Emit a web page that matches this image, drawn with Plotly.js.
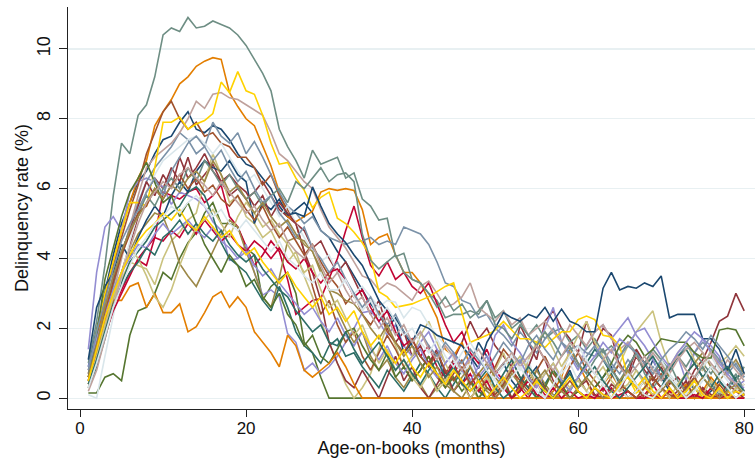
<!DOCTYPE html>
<html>
<head>
<meta charset="utf-8">
<script src="https://cdn.plot.ly/plotly-3.0.1.min.js"></script>
<style>html,body{margin:0;padding:0;background:#fff;}#chart{width:756px;height:458px;}</style>
</head>
<body>
<div id="chart"></div>
<script>
const months = [1,2,3,4,5,6,7,8,9,10,11,12,13,14,15,16,17,18,19,20,21,22,23,24,25,26,27,28,29,30,31,32,33,34,35,36,37,38,39,40,41,42,43,44,45,46,47,48,49,50,51,52,53,54,55,56,57,58,59,60,61,62,63,64,65,66,67,68,69,70,71,72,73,74,75,76,77,78,79,80];
const xTicks = [0,20,40,60,80];
const yTicks = [0,2,4,6,8,10];

const navyA = [0.9,2.0,3.0,4.1,5.0,5.6,6.2,6.5,7.0,7.4, 7.5,7.9,8.2,7.7,7.6,7.8,7.7,7.4,7.0,6.7, 6.6,6.3,6.0,5.5,5.2,5.4,5.6,5.3,4.8,4.6, 4.2,3.9,3.5,3.1,2.7,2.4,2.0,2.3,1.9,1.5, 1.2,0.9,1.4,0.6,1.0,0.4,0.9,1.6,1.2,0.7, 1.0,0.5,0.2,0.6,0.9,0.3,0.0,0.4,0.8,0.2, 0.0,0.3,0.6,0.9,0.4,0.0,0.2,0.5,1.1,0.6, 0.2,0.0,0.4,0.3,0.0,0.2,0.5,0.2,0.0,0.1];
const maroonA = [0.8,1.6,2.4,3.0,3.6,4.4,5.2,5.9,6.3,6.0, 6.6,6.2,6.9,6.1,6.4,6.7,6.2,5.8,6.0,5.7, 5.9,6.2,5.8,5.4,5.2,5.0,4.8,4.3,4.5,4.0, 3.6,3.9,3.4,2.9,2.4,2.8,2.0,1.6,1.9,1.2, 1.5,1.0,1.4,0.7,1.1,1.6,2.2,1.7,2.0,1.5, 1.2,0.9,2.1,1.6,1.1,2.2,2.5,2.0,1.7,1.3, 2.2,1.5,2.0,1.8,0.9,0.6,1.2,0.8,0.5,0.9, 0.4,0.6,0.3,0.8,1.1,1.6,2.2,2.35,3.0,2.5];
const forestA = [0.15,0.15,0.6,0.7,0.5,1.8,2.5,2.6,3.0,3.6, 3.4,4.0,4.45,4.75,5.3,5.6,5.0,5.0,4.9,4.3, 4.1,2.8,3.2,3.4,3.6,3.0,1.6,1.3,0.6,0.0, 0,0,0,0,0,0,0,0,0,0, 0,0,0,0,0,0,0,0,0,0, 0,0,0,0,0,0,0,0,0,0, 0,0,0,0,0,0,0,0,0,0, 0,0,0,0,0,0,0,0,0,0];
const dkorangeA = [0.5,1.6,2.8,3.9,4.8,5.6,6.3,6.8,7.8,8.2, 8.55,9.0,9.2,9.5,9.65,9.75,9.7,8.75,8.35,8.0, 7.8,7.2,6.65,5.9,5.2,5.05,5.2,5.35,5.9,6.0, 5.95,6.0,5.95,5.4,4.4,4.6,4.7,4.1,3.6,3.6, 3.3,2.8,2.3,1.4,1.2,1.6,0.9,0.4,0.7,0.2, 0.5,0.0,0.3,0.8,0.4,0.0,0.2,0.6,1.4,1.0, 0.5,0.0,0.4,0.7,0.3,0.0,0.2,0.5,0.0,0.3, 0.0,0.1,0.4,0.0,0.2,0.6,0.3,0.0,0.2,0.4];
const tealA = [1.0,2.2,3.8,5.8,7.3,7.0,8.1,8.4,9.2,10.4, 10.6,10.5,10.9,10.6,10.65,10.8,10.7,10.6,10.4,10.1, 9.7,9.3,8.8,7.7,7.2,6.8,6.3,7.1,6.7,6.8, 6.9,6.3,6.45,5.7,5.5,5.1,5.15,4.05,4.15,3.4, 3.3,3.0,2.8,2.3,2.4,2.4,2.5,2.4,2.8,2.3, 2.5,2.0,2.2,1.8,2.1,1.7,1.9,2.0,1.6,1.8, 1.4,1.7,1.3,1.5,1.2,1.6,1.3,1.0,1.4,1.1, 0.8,1.2,0.9,1.3,1.0,0.7,1.1,0.8,0.5,0.9];
const cranberryA = [0.4,1.0,1.8,2.6,3.1,3.6,3.95,3.8,4.6,5.9, 5.8,5.7,5.9,6.0,5.6,5.8,6.1,5.2,4.9,4.35, 3.8,4.1,4.5,4.2,3.4,2.4,2.6,2.8,2.85,3.4, 4.0,4.8,5.5,4.6,3.8,3.5,3.9,3.4,3.6,3.2, 3.0,3.3,2.7,2.1,1.6,1.9,1.3,1.0,1.4,0.8, 0.5,0.9,0.3,0.0,0.4,0.1,0.0,0.3,0.0,0.2, 0.0,0.1,0.0,0.3,0.0,0.2,0.0,0.1,0.4,0.0, 0.2,0.0,0.1,0.0,0.3,0.0,0.1,0.2,0.0,0.1];
const lavenderA = [1.4,3.6,4.9,5.2,4.8,5.9,6.2,6.3,6.2,6.05, 5.55,5.9,5.8,5.7,5.5,5.05,4.8,3.95,4.0,4.4, 3.6,2.95,3.1,2.9,1.85,1.6,0.8,1.0,0.7,0.9, 1.2,1.6,2.0,2.45,2.5,2.2,1.8,2.1,1.5,1.2, 1.6,1.9,1.4,1.0,1.3,0.8,1.2,0.6,0.9,1.8, 2.1,1.6,1.3,0.9,1.5,2.0,2.6,1.6,1.2,0.8, 1.5,1.9,2.1,1.7,2.0,2.3,1.8,1.5,1.1,0.6, 0.8,1.2,0.5,1.3,1.7,1.5,1.2,0.6,0.3,0.5];
const khakiA = [0.3,1.0,1.9,2.8,3.4,3.9,3.8,3.7,3.25,4.0, 4.5,4.75,5.1,5.3,6.2,7.0,6.4,5.6,5.8,5.2, 5.0,4.6,4.8,4.3,3.9,4.2,3.5,2.9,2.2,1.6, 1.0,0.4,0.0,0.3,0.7,1.4,2.1,1.5,0.9,1.2, 1.8,2.2,1.6,1.0,0.5,0.9,0.3,0.0,0.4,0.8, 1.3,0.7,0.4,1.1,1.6,1.9,1.4,0.9,1.3,1.8, 2.2,1.6,1.2,0.7,1.0,1.5,1.9,2.2,2.5,1.6, 0.9,1.3,1.6,1.1,0.8,1.4,1.0,1.2,1.5,1.2];
const siennaA = [0.7,1.8,2.9,3.8,4.6,5.4,6.1,7.0,7.6,8.2, 8.5,8.0,7.7,7.9,7.5,7.6,7.3,7.2,6.9,6.9, 6.6,6.1,6.4,5.8,5.4,5.0,4.2,3.2,2.4,2.8, 2.1,1.6,1.9,1.2,0.8,1.3,1.8,1.4,0.9,0.5, 0.8,1.2,0.6,0.3,0.7,1.1,0.5,0.2,0.6,0.9, 1.4,1.1,0.6,0.3,0.8,1.2,0.7,0.4,0.9,1.3, 0.8,0.5,0.2,0.6,1.0,0.6,0.3,0.0,0.4,0.7, 0.3,0.0,0.2,0.5,0.9,0.5,0.2,0.0,0.3,0.1];
const emidblueA = [0.5,1.3,2.3,3.2,4.1,4.9,5.6,6.2,6.6,6.9, 7.2,7.6,7.4,7.0,7.2,7.9,7.5,7.3,7.6,7.0, 7.35,6.9,6.4,5.9,5.5,5.3,5.0,5.2,4.8,4.6, 4.5,4.4,4.5,4.5,4.6,4.4,4.5,4.4,4.9,4.8, 4.7,4.4,3.9,3.3,3.2,2.8,2.7,2.3,2.4,2.0, 1.8,1.5,1.9,1.6,1.3,1.7,2.0,1.6,1.4,1.5, 1.3,1.2,1.4,1.0,0.7,1.1,0.8,0.5,0.9,0.6, 0.9,1.2,1.5,1.3,1.6,1.4,1.1,0.7,1.0,0.6];
const emeraldA = [0.3,0.9,1.7,2.6,3.3,3.9,4.2,4.5,4.9,5.1, 5.3,5.5,5.9,6.05,5.8,5.2,4.45,4.0,3.8,3.6, 3.2,2.8,2.5,3.2,2.6,1.9,1.5,1.3,1.0,1.5, 1.7,1.2,1.3,0.9,0.6,0.3,0.8,0.5,0.2,0.6, 1.0,0.7,0.3,0.0,0.4,0.8,0.5,0.2,0.0,0.3, 0.7,1.1,0.6,0.3,0.0,0.4,0.8,0.5,0.2,0.6, 1.0,1.4,1.1,0.7,0.4,0.9,1.3,1.0,0.6,0.3, 0.8,1.2,1.4,1.0,0.6,0.9,0.5,0.2,0.6,0.7];
const brownA = [0.4,1.1,2.0,2.9,3.6,4.2,4.7,5.0,5.3,5.2, 4.6,3.85,3.5,3.2,3.7,4.2,4.7,5.1,4.9,4.2, 3.6,2.9,2.6,3.45,4.5,4.6,4.5,4.2,3.7,3.1, 2.5,2.0,1.6,1.9,1.2,0.8,1.1,0.6,0.3,0.7, 0.4,0.0,0.3,0.6,0.2,0.0,0.4,0.7,1.0,0.6, 0.3,0.0,0.2,0.5,0.8,0.4,0.1,0.0,0.3,0.6, 0.2,0.0,0.4,0.8,0.5,0.2,0.0,0.3,0.7,1.0, 0.6,0.3,0.7,1.0,1.3,0.9,0.5,0.8,1.1,0.7];
const eroseA = [0.3,1.0,2.0,3.0,4.0,4.9,5.8,6.6,6.9,7.1, 7.3,7.6,8.0,8.5,8.3,8.7,8.75,8.6,8.55,8.4, 8.25,8.1,7.6,7.0,6.8,6.5,6.2,6.0,5.4,4.9, 4.6,4.3,3.9,3.5,3.4,3.1,3.3,3.2,3.0,2.8, 3.2,3.35,3.0,2.6,2.7,2.9,3.3,2.6,2.4,2.2, 2.5,2.1,2.3,1.8,2.0,2.2,1.9,1.6,2.1,1.8, 1.5,1.9,2.1,1.7,1.4,1.6,1.2,0.9,1.3,1.0, 0.7,1.1,1.4,1.6,1.3,1.0,0.7,1.1,0.8,0.5];
const goldA = [0.6,1.9,3.0,3.9,4.8,5.6,5.6,5.5,6.6,7.9, 7.9,8.05,7.7,7.85,7.95,8.15,9.05,8.75,9.35,8.8, 8.7,8.1,7.3,6.7,6.75,6.3,5.95,5.45,5.75,5.9, 5.15,5.0,4.75,4.45,4.05,3.05,2.9,2.6,2.65,2.7, 2.8,2.9,3.05,3.2,3.3,2.45,1.6,1.7,1.8,1.95, 2.2,1.95,1.7,1.7,1.6,1.45,1.7,1.9,1.9,2.25, 2.35,2.25,1.8,1.75,1.5,0.6,0.15,0.3,0.1,0.0, 0.2,0.0,0.1,0.3,0.0,0.1,0.0,0.2,0.0,0.1];
const bluishgrayA = [0.1,0.0,1.2,2.4,3.5,4.5,5.3,5.9,6.4,6.8, 7.0,7.2,7.4,7.5,7.3,7.0,7.3,6.9,6.5,6.2, 6.4,6.0,5.6,5.2,5.5,5.0,4.6,4.2,3.9,4.1, 3.6,3.3,3.0,3.2,2.9,2.6,2.8,2.75,2.3,2.6, 2.5,2.1,1.8,1.5,1.1,0.7,1.0,0.4,0.2,0.6, 0.9,1.2,0.8,1.1,0.4,0.0,0.3,0.7,1.0,0.5, 0.2,0.0,0.4,0.8,0.3,0.0,0.2,0.5,0.8,1.1, 0.7,0.4,0.1,0.5,0.9,1.2,0.8,0.5,0.2,0.4];

const navyB = [1.1,2.6,3.2,3.6,4.4,4.0,4.6,5.1,5.5,5.2, 5.8,6.2,5.9,6.5,6.8,6.6,6.5,6.8,6.4,6.2, 5.0,5.6,5.4,5.7,5.25,5.3,5.2,6.05,5.5,5.0, 4.7,4.45,4.1,3.8,3.3,2.8,2.5,2.2,1.3,1.6, 2.1,2.0,1.8,1.7,1.6,1.5,1.2,0.85,1.6,2.0, 2.45,2.3,2.2,2.4,2.3,2.6,2.2,2.55,2.2,2.1, 1.9,1.9,3.15,3.6,3.1,3.2,3.15,3.3,3.2,3.5, 2.3,2.4,2.4,2.4,1.7,1.7,1.4,0.8,1.4,0.7];
const maroonB = [0.5,1.2,2.2,3.4,4.2,4.8,5.5,6.2,5.8,6.4, 6.0,6.9,6.3,6.6,7.0,6.5,6.2,6.4,6.1,5.9, 5.5,5.8,5.2,5.6,5.3,5.0,4.2,3.6,2.8,1.6, 1.0,0.5,0.3,0.8,0.4,0.0,0.6,1.2,0.5,0.9, 0.3,0.0,0.4,0.8,0.2,0.5,0.0,0.3,0.0,0.2, 0.6,0.0,0.4,0.9,1.5,1.1,0.5,0.2,0.0,0.3, 0.5,0.1,0.0,0.4,0.2,0.7,1.4,1.0,0.6,0.3, 0.0,0.2,0.5,0.0,0.3,0.1,0.0,0.4,0.2,0.0];
const forestB = [0.6,1.8,3.4,4.3,5.2,5.9,6.3,6.75,6.2,5.6, 5.8,5.2,5.6,5.0,4.4,4.0,3.6,4.1,3.8,3.2, 3.4,2.9,2.6,3.0,2.4,2.1,1.5,1.8,1.2,1.0, 1.4,1.9,2.0,1.5,1.1,0.8,1.3,0.6,0.9,0.5, 0.8,1.2,0.7,0.3,0.6,0.2,0.5,0.0,0.3,0.1, 0.4,0.0,0.2,0.6,0.0,0.3,0.8,0.4,0.0,0.2, 0.0,0.3,0.6,1.0,1.5,1.8,1.6,1.2,1.4,1.7, 1.65,1.6,1.6,1.3,1.15,1.15,1.95,2.0,1.95,1.5];
const dkorangeB = [0.5,1.4,2.2,2.8,2.8,3.2,3.3,2.6,3.0,2.45, 2.45,2.7,1.9,2.05,2.45,2.9,3.05,2.6,2.9,2.6, 1.9,1.6,1.3,0.9,1.8,1.5,0.8,0.6,0.8,1.0, 1.3,0.9,0.4,0.0,0,0,0,0,0,0, 0,0,0,0,0,0,0,0,0,0, 0,0,0,0,0,0,0,0,0,0, 0,0,0,0,0,0,0,0,0,0, 0,0,0,0,0,0,0,0,0,0];
const tealB = [0.7,1.5,2.6,3.5,4.2,4.8,5.3,5.8,5.5,6.0, 6.3,6.0,6.6,6.2,6.8,6.5,6.1,6.4,6.0,5.7, 5.9,5.5,5.8,6.0,5.6,6.2,6.0,6.3,6.6,6.2, 6.4,6.45,6.2,4.7,3.95,3.7,3.9,4.1,3.6,3.4, 3.3,3.0,2.6,2.9,2.5,2.7,2.3,2.5,2.8,2.1, 2.0,1.7,2.1,1.8,1.5,1.9,1.6,1.2,1.5,1.0, 0.7,1.1,1.4,0.8,0.5,0.9,1.3,0.7,0.3,0.6, 1.0,0.5,0.2,0.6,0.9,0.4,0.1,0.3,0.7,0.2];
const cranberryB = [0.6,1.2,1.8,2.5,3.0,3.5,4.0,4.3,4.6,4.5, 4.8,4.6,5.0,4.7,5.1,4.8,4.5,4.7,4.4,4.2, 4.5,4.3,4.0,4.3,3.9,3.7,4.0,3.6,3.3,3.6, 3.7,3.4,2.9,3.1,2.6,2.2,2.5,1.9,1.5,1.7, 1.2,1.5,0.9,0.6,1.0,0.4,0.7,0.2,0.5,0.0, 0.3,0.0,0.2,0.5,0.1,0.0,0.3,0.0,0.2,0.0, 0.1,0.0,0.3,0.0,0.1,0.2,0.0,0.0,0.1,0.0, 0.2,0.0,0.0,0.1,0.0,0.3,0.0,0.1,0.0,0.0];
const lavenderB = [0.9,1.7,2.4,3.1,3.6,4.0,4.4,4.3,4.7,5.0, 4.7,4.9,5.1,4.8,4.6,4.9,4.5,4.3,4.0,4.2, 3.8,3.5,3.7,3.3,3.0,2.7,2.4,2.6,2.2,1.9, 2.3,1.8,1.5,1.9,1.4,1.1,1.5,1.0,0.7,1.1, 1.4,0.9,0.6,1.0,1.3,0.8,0.5,0.9,1.2,0.7, 0.4,0.8,1.1,0.6,0.3,0.7,1.0,0.5,0.2,0.6, 0.9,1.2,1.6,1.3,1.7,1.5,1.9,2.0,1.6,1.2, 0.9,1.3,1.6,1.9,1.7,1.3,1.0,0.7,0.4,0.3];
const khakiB = [0.4,1.2,2.1,2.9,3.6,4.3,4.0,3.5,2.9,2.6, 3.1,3.8,4.4,4.9,5.1,5.4,5.0,4.6,5.2,5.6, 5.3,4.9,5.1,4.7,4.4,4.0,3.6,3.8,3.1,2.6, 2.8,2.3,1.8,2.1,1.5,1.0,1.4,0.8,1.1,0.6, 0.3,0.7,0.2,0.5,0.9,0.4,0.0,0.3,0.6,0.2, 0.5,0.9,1.2,0.8,0.4,0.7,1.0,0.6,0.3,0.5, 0.2,0.6,0.9,0.5,0.2,0.4,0.8,0.4,0.1,0.3, 0.0,0.4,0.7,0.3,0.1,0.5,0.2,0.0,0.3,0.2];
const siennaB = [0.6,1.5,2.5,3.3,4.1,4.7,5.3,5.5,6.0,5.7, 6.1,6.4,6.0,6.3,5.9,6.1,5.7,5.5,5.8,5.4, 5.1,5.5,5.0,4.6,4.9,4.5,4.1,4.4,3.9,3.5, 3.2,2.7,3.0,2.4,2.1,2.5,1.9,1.6,1.3,1.7, 1.2,0.9,1.3,0.8,0.5,0.9,0.4,0.7,0.3,0.1, 0.4,0.8,0.5,0.2,0.6,0.3,0.0,0.2,0.5,0.2, 0.0,0.3,0.1,0.0,0.4,0.2,0.0,0.3,0.6,0.3, 0.1,0.0,0.3,0.6,0.2,0.0,0.4,0.1,0.0,0.2];
const emidblueB = [0.8,1.9,2.8,3.7,4.5,5.0,5.4,5.9,6.3,5.8, 6.5,6.9,7.3,7.5,7.2,6.8,7.1,6.6,6.2,6.5, 6.0,5.6,5.8,5.3,5.0,4.6,4.9,4.3,4.0,3.6, 3.9,3.4,3.0,2.6,2.9,2.4,2.1,2.4,1.9,1.6, 1.9,1.5,1.2,1.6,1.3,1.0,1.4,1.1,0.8,1.2, 1.6,1.3,1.0,1.5,1.8,1.4,1.1,1.6,1.3,0.9, 1.2,1.5,1.1,0.8,1.2,1.5,1.3,1.0,0.7,1.1, 1.4,1.6,1.9,1.7,1.4,1.8,1.5,1.2,0.9,0.6];
const emeraldB = [0.4,1.1,1.9,2.7,3.2,3.6,3.9,4.3,4.1,4.6, 4.8,5.1,4.7,5.0,4.7,4.5,4.8,4.4,4.1,3.9, 4.1,3.7,3.4,3.1,2.9,2.5,2.2,1.9,2.1,1.6, 1.5,1.9,1.4,1.0,1.3,1.6,1.2,0.8,1.1,0.7, 0.4,0.8,1.1,0.6,0.9,0.4,0.2,0.5,0.8,0.3, 0.0,0.2,0.5,0.9,0.6,0.2,0.0,0.4,0.7,0.3, 0.6,0.9,0.5,0.2,0.0,0.3,0.6,0.9,1.2,0.8, 0.5,0.3,0.7,1.0,0.6,0.3,0.7,0.9,0.5,0.2];
const brownB = [0.6,1.5,2.6,3.5,4.2,4.8,5.2,5.6,6.0,5.7, 6.1,5.9,6.3,6.5,6.2,6.8,6.4,5.9,6.1,5.7, 5.3,5.6,5.2,4.9,5.1,4.7,4.4,4.2,3.6,3.1, 3.0,2.8,2.7,2.4,2.0,1.7,2.1,1.6,1.2,1.5, 1.0,0.6,0.9,0.4,0.2,0.6,0.9,0.5,0.2,0.0, 0.3,0.7,0.4,0.1,0.5,0.8,0.4,0.2,0.0,0.3, 0.6,0.3,0.0,0.2,0.5,0.8,0.4,0.1,0.0,0.2, 0.5,0.2,0.0,0.3,0.6,0.3,0.0,0.2,0.4,0.1];
const eroseB = [0.2,0.8,1.7,2.6,3.5,4.3,5.0,5.6,5.9,6.2, 6.0,6.4,6.6,6.3,6.1,5.8,6.2,5.9,5.6,5.3, 5.5,5.1,4.8,5.0,4.5,4.2,4.0,4.4,3.8,3.3, 3.6,3.1,2.7,2.9,2.4,2.0,2.3,1.8,2.1,1.6, 1.9,1.4,1.1,1.5,1.2,0.8,1.1,1.4,1.0,0.7, 1.0,1.3,0.9,1.2,1.5,1.1,0.8,1.2,1.6,1.3, 1.0,0.7,1.1,1.4,0.9,0.6,0.9,1.2,0.8,0.5, 0.9,1.2,0.8,0.6,1.0,1.3,0.9,0.6,0.4,0.7];
const goldB = [0.5,1.4,2.3,3.0,3.6,4.1,4.5,4.8,5.0,5.3, 5.1,5.4,5.0,4.8,5.2,4.9,4.6,4.8,4.4,4.1, 4.3,3.9,3.6,3.3,3.6,3.2,2.9,2.6,2.9,2.4, 2.6,2.2,2.5,1.9,1.5,1.8,1.3,1.0,1.4,0.9, 0.6,1.0,0.7,0.4,0.8,0.5,0.2,0.5,0.0,0.3, 0.6,0.3,0.0,0.2,0.5,0.2,0.0,0.3,0.6,0.2, 0.0,0.3,0.1,0.0,0.4,0.6,0.3,0.6,0.2,0.0, 0.3,0.0,0.2,0.5,0.1,0.0,0.3,0.0,0.2,0.1];
const bluishgrayB = [0.3,1.0,1.8,2.6,3.2,3.8,4.3,4.6,5.0,5.2, 5.5,5.3,5.6,5.8,5.5,5.2,5.4,5.0,4.8,5.1, 4.8,4.5,4.2,4.5,4.0,3.8,3.5,3.3,3.6,3.1, 3.1,3.4,2.9,2.5,2.8,2.3,2.6,2.2,1.8,2.0, 1.6,1.3,1.7,1.2,0.9,1.3,1.6,1.2,0.8,0.5, 0.2,0.6,0.9,0.5,0.2,0.0,0.4,0.8,1.2,1.5, 1.1,0.7,0.4,0.0,0.3,0.7,0.4,0.1,0.0,0.3, 0.6,0.3,0.0,0.2,0.5,0.9,0.6,0.3,0.0,0.2];

const palette = ['#1a476f','#90353b','#55752f','#e37e00','#6e8e84','#c10534','#938dd2','#cac27e','#a0522d','#7b92a8','#2d6d66','#9c8847','#bfa19c','#ffd200','#d9e6eb'];
const seriesList = [navyA, maroonA, forestA, dkorangeA, tealA, cranberryA, lavenderA, khakiA, siennaA, emidblueA, emeraldA, brownA, eroseA, goldA, bluishgrayA,
                    navyB, maroonB, forestB, dkorangeB, tealB, cranberryB, lavenderB, khakiB, siennaB, emidblueB, emeraldB, brownB, eroseB, goldB, bluishgrayB];

const traces = seriesList.map((vals, i) => ({
  x: months, y: vals, type: 'scatter', mode: 'lines',
  line: {color: palette[i % palette.length], width: 1.6},
  hoverinfo: 'skip', showlegend: false
}));

const fontFam = 'Liberation Sans, Arial, Helvetica, sans-serif';
const layout = {
  width: 756, height: 458,
  margin: {l: 68, r: 1, t: 7, b: 49},
  paper_bgcolor: '#ffffff', plot_bgcolor: '#ffffff',
  showlegend: false,
  font: {family: fontFam, color: '#111111', size: 17},
  xaxis: {
    range: [-1.45, 81.3], tickvals: xTicks, ticktext: xTicks.map(String),
    ticks: 'outside', ticklen: 7, tickwidth: 1, tickcolor: '#222',
    showline: true, linecolor: '#222', linewidth: 1,
    showgrid: false, zeroline: false,
    ticklabelstandoff: -3,
    tickfont: {size: 17, family: fontFam, color: '#111'},
    title: {text: 'Age-on-books (months)', font: {size: 18, family: fontFam, color: '#111'}, standoff: 2}
  },
  yaxis: {
    range: [-0.31, 11.2], tickvals: yTicks, ticktext: yTicks.map(String),
    tickangle: -90,
    ticks: 'outside', ticklen: 8, tickwidth: 1, tickcolor: '#222',
    showline: true, linecolor: '#222', linewidth: 1,
    showgrid: true, gridcolor: '#e8f0f2', gridwidth: 1.2, zeroline: false,
    ticklabelstandoff: 2,
    tickfont: {size: 18, family: fontFam, color: '#111'},
    title: {text: 'Delinquency rate (%)', font: {size: 18, family: fontFam, color: '#111'}, standoff: 0}
  }
};

Plotly.newPlot('chart', traces, layout, {staticPlot: true, displayModeBar: false});
</script>
</body>
</html>
